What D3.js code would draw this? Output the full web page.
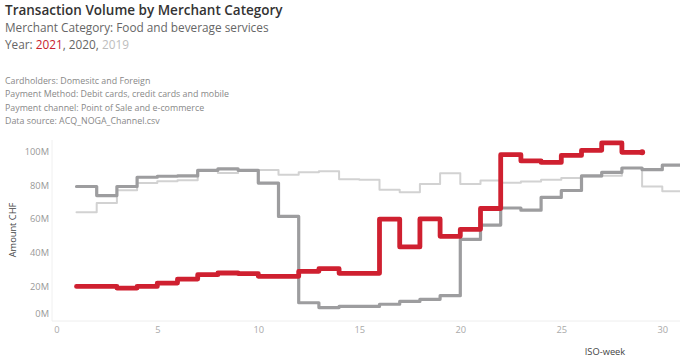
<!DOCTYPE html>
<html><head><meta charset="utf-8">
<script src="https://cdn.jsdelivr.net/npm/d3@7"></script>
<style>
body{margin:0;background:#fff}
svg{display:block}
text{font-family:"Open Sans",sans-serif}
</style>
</head><body>
<svg id="chart" width="680" height="360"></svg>
<script>
// ---- data (values in millions CHF, by ISO week) ----
const weeks2021 = d3.range(1, 30);
const values2021 = [19.8,19.8,18.8,19.8,21.8,24.2,26.8,27.8,27.4,25.8,25.8,28.8,30.4,27.6,27.6,59.9,43.3,60.0,49.6,53.8,66.2,98.2,94.5,93.6,97.8,100.8,105.2,99.6,99.6];
const weeks2020 = d3.range(1, 32);
const values2020 = [79.3,73.9,79.3,84.8,85.4,85.6,88.9,89.8,88.9,81.3,61.5,10.1,7.2,7.9,7.9,9.2,10.9,12.1,14.3,47.8,56.3,66.5,65.2,72.8,76.9,85.6,87.7,90.3,89.3,92.0,92.0];
const weeks2019 = d3.range(1, 32);
const values2019 = [64.0,69.4,77.0,81.3,82.4,83.0,88.9,87.3,88.9,89.1,86.3,87.8,88.3,83.6,83.3,77.3,75.8,80.7,87.2,80.8,82.9,81.5,82.3,83.3,84.3,85.3,85.7,90.3,79.3,76.4,76.4];
const xTicks = [0,5,10,15,20,25,30];
const yTicks = [0,20,40,60,80,100];

const titleText = "Transaction Volume by Merchant Category";
const subtitleText = "Merchant Category: Food and beverage services";
const notes = [
  "Cardholders: Domesitc and Foreign",
  "Payment Method: Debit cards, credit cards and mobile",
  "Payment channel: Point of Sale and e-commerce",
  "Data source: ACQ_NOGA_Channel.csv"
];

const svg = d3.select("#chart");

// ---- header ----
svg.append("text").attr("x",5).attr("y",15)
  .attr("font-size",13.5).attr("font-weight",600).attr("fill","#333")
  .text(titleText);
svg.append("text").attr("x",5).attr("y",32)
  .attr("font-size",11.8).attr("fill","#666")
  .text(subtitleText);
const yr = svg.append("text").attr("x",5).attr("y",49)
  .attr("font-size",11.8).attr("fill","#666");
yr.append("tspan").text("Year: ");
yr.append("tspan").attr("fill","#c8202e").text("2021");
yr.append("tspan").attr("fill","#666").text(", 2020, ");
yr.append("tspan").attr("fill","#bdbdbd").text("2019");

svg.append("g").selectAll("text").data(notes).join("text")
  .attr("x",5).attr("y",(d,i)=>84 + i*13.4)
  .attr("font-size",8.85).attr("fill","#888")
  .text(d=>d);

// ---- scales ----
const x = d3.scaleLinear().domain([0,31]).range([56.3, 56.3 + 20.2*31]);
const y = d3.scaleLinear().domain([0,100]).range([319.7,151.7]);

// frame lines
svg.append("line").attr("x1",52).attr("x2",680).attr("y1",321).attr("y2",321)
  .attr("stroke","#eeeeee");
svg.append("line").attr("x1",52).attr("x2",52).attr("y1",140).attr("y2",321)
  .attr("stroke","#f0f0f0");

// y axis
const yAxis = d3.axisLeft(y).tickValues(yTicks).tickFormat(d=>d+"M").tickSize(0).tickPadding(0);
const gy = svg.append("g").attr("transform","translate(49,0)").call(yAxis);
gy.select(".domain").remove();
gy.selectAll("text").attr("font-size",9.3).attr("fill","#999")
  .attr("font-family","'Open Sans',sans-serif")
  .attr("dy", d=> d===0 ? "-0.35em" : "0.32em");

svg.append("text").attr("transform","translate(16,230) rotate(-90)")
  .attr("text-anchor","middle").attr("font-size",9.3).attr("fill","#444")
  .text("Amount CHF");

// x axis
const xAxis = d3.axisBottom(x).tickValues(xTicks).tickSize(0).tickPadding(0);
const gx = svg.append("g").attr("transform","translate(0,326)").call(xAxis);
gx.select(".domain").remove();
gx.selectAll("text").attr("font-size",9.3).attr("fill","#aaa")
  .attr("font-family","'Open Sans',sans-serif").attr("dy","0.71em");

svg.append("text").attr("x",605).attr("y",355).attr("text-anchor","middle")
  .attr("font-size",9.3).attr("fill","#444").text("ISO-week");

// ---- lines ----
svg.append("defs").append("clipPath").attr("id","clip")
  .append("rect").attr("x",52).attr("y",130).attr("width",628).attr("height",200);

const line = d3.line().x(d=>x(d[0])).y(d=>y(d[1])).curve(d3.curveStepAfter);
const plot = svg.append("g").attr("clip-path","url(#clip)");

const series = [
  {weeks:weeks2019, values:values2019, color:"#d2d2d2", width:2},
  {weeks:weeks2020, values:values2020, color:"#9d9d9f", width:3.2},
  {weeks:weeks2021, values:values2021, color:"#cf2030", width:4.8}
];
series.forEach(s=>{
  plot.append("path")
    .datum(s.weeks.map((w,i)=>[w, s.values[i]]))
    .attr("fill","none").attr("stroke",s.color).attr("stroke-width",s.width)
    .attr("stroke-linejoin","round").attr("stroke-linecap","round")
    .attr("d",line);
});
const last = weeks2021.length-1;
plot.append("circle").attr("cx",x(weeks2021[last])).attr("cy",y(values2021[last]))
  .attr("r",3).attr("fill","#cf2030");
</script>
</body></html>
